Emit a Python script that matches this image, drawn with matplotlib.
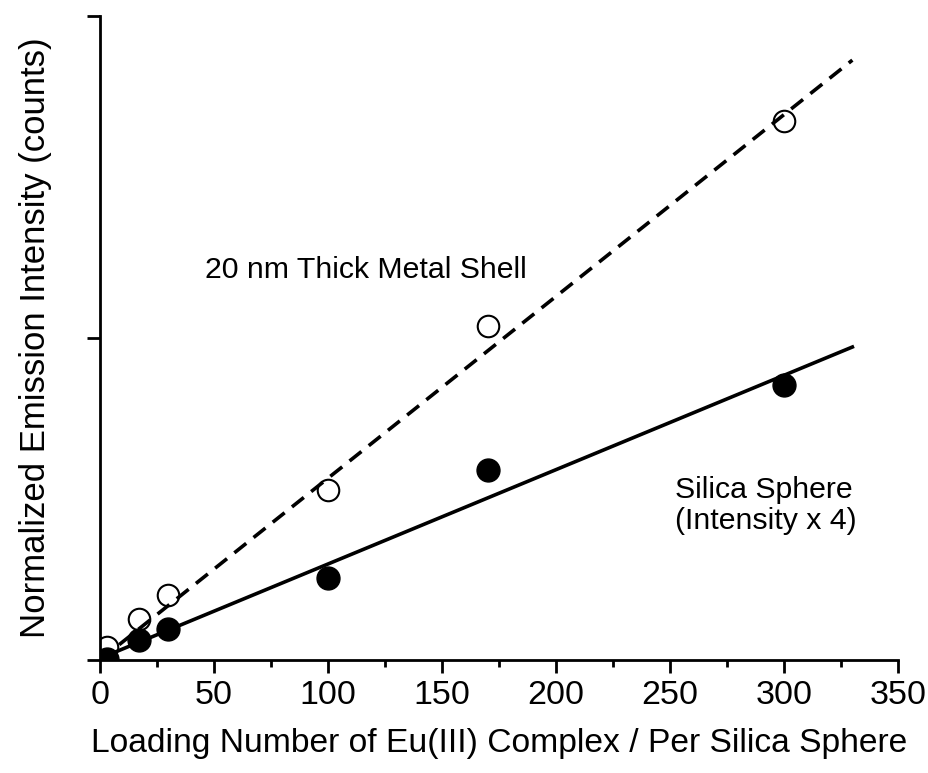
import numpy as np
import matplotlib
matplotlib.use("Agg")
import matplotlib.pyplot as plt

# loading number per silica sphere
loading = [3, 17, 30, 100, 170, 300]
# normalized emission intensity (arbitrary units)
shell_intensity = [0.040, 0.127, 0.202, 0.528, 1.037, 1.674]
silica_intensity = [0.002, 0.062, 0.096, 0.255, 0.590, 0.854]

# linear fits (endpoints)
fit_x = [0, 330]
shell_fit = [0.0, 1.863]
silica_fit = [0.005, 0.972]

x_ticks = [0, 50, 100, 150, 200, 250, 300, 350]
x_minor = [25, 75, 125, 175, 225, 275, 325]
y_ticks = [0, 1, 2]

plt.rcParams['font.family'] = ['Liberation Sans', 'DejaVu Sans']

fig = plt.figure(figsize=(9.29, 7.73), dpi=100)
ax = fig.add_axes([0.1076, 0.1462, 0.859, 0.8331])

ax.plot(fit_x, shell_fit, color='black', lw=2.6, ls=(0, (4.2, 2.6)))
ax.plot(fit_x, silica_fit, color='black', lw=2.6)
ax.plot(loading, shell_intensity, 'o', ms=15.5, mfc='none', mec='black', mew=1.5)
ax.plot(loading, silica_intensity, 'o', ms=16.5, mfc='black', mec='black')

ax.set_xlim(0, 350)
ax.set_ylim(0, 2)
ax.set_xticks(x_ticks)
ax.set_xticks(x_minor, minor=True)
ax.set_yticks(y_ticks)
ax.set_yticklabels([])

for side in ['top', 'right']:
    ax.spines[side].set_visible(False)
for side in ['left', 'bottom']:
    ax.spines[side].set_linewidth(2)

ax.tick_params(axis='both', which='major', direction='out', length=9.5, width=2,
               labelsize=24.5, pad=5)
ax.tick_params(axis='x', which='minor', direction='out', length=5, width=2)

ax.set_xlabel('Loading Number of Eu(III) Complex / Per Silica Sphere', fontsize=24.2, labelpad=12)
ax.set_ylabel('Normalized Emission Intensity (counts)', fontsize=25, labelpad=20)

ax.text(46, 1.21, '20 nm Thick Metal Shell', fontsize=21.8, va='center', ha='left')
ax.text(252, 0.48, 'Silica Sphere\n(Intensity x 4)', fontsize=21.8, va='center', ha='left',
        linespacing=1.15)

fig.savefig('out.png', dpi=100)
